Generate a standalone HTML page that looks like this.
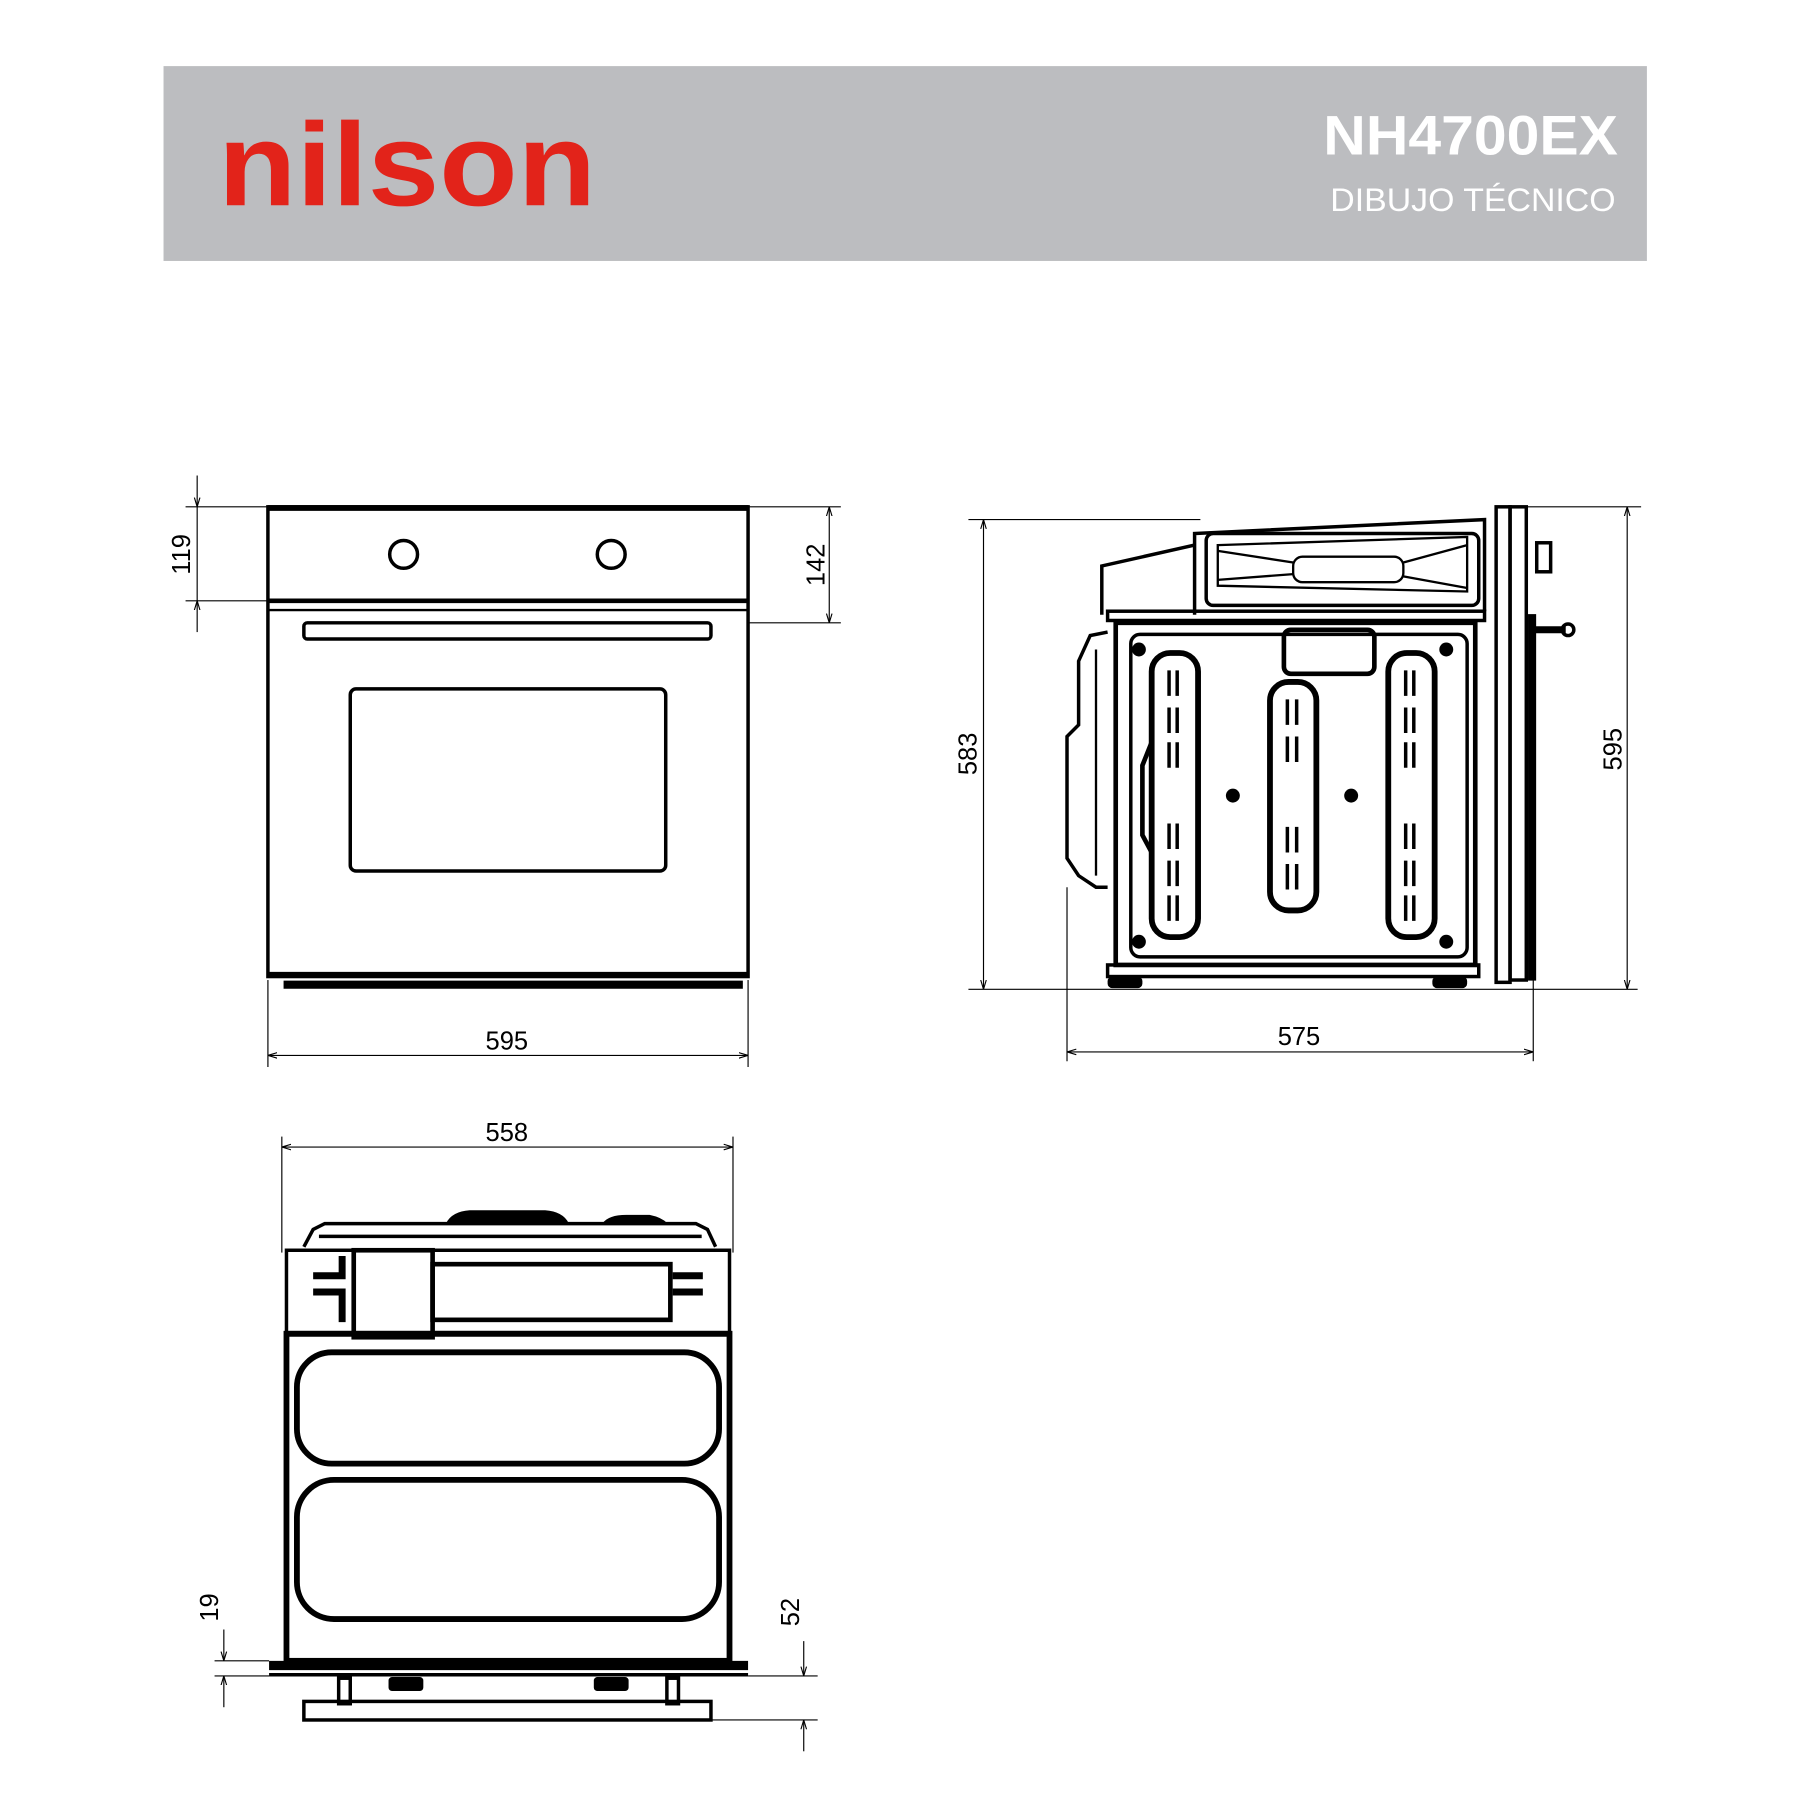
<!DOCTYPE html>
<html><head><meta charset="utf-8"><style>html,body{margin:0;padding:0;background:#fff}svg{display:block}</style></head>
<body>
<svg width="1800" height="1800" viewBox="0 0 1552 1552" xmlns="http://www.w3.org/2000/svg" font-family="Liberation Sans, sans-serif">
<defs>
<marker id="a" viewBox="0 0 10 10" refX="10" refY="5" markerWidth="8" markerHeight="8" orient="auto-start-reverse" markerUnits="userSpaceOnUse"><path d="M0,2 L10,5 L0,8" fill="none" stroke="#000" stroke-width="1.2"/></marker>
</defs>
<rect width="1552" height="1552" fill="#fff"/>
<!-- header -->
<rect x="141" y="57" width="1279" height="168" fill="#bcbdc0"/>
<text x="188" y="177" font-size="102" font-weight="bold" fill="#e2231a" textLength="326" lengthAdjust="spacingAndGlyphs">nilson</text>
<text x="1395" y="133" font-size="48" font-weight="bold" fill="#fff" text-anchor="end" textLength="254" lengthAdjust="spacingAndGlyphs">NH4700EX</text>
<text x="1393" y="182" font-size="28" fill="#fff" text-anchor="end" textLength="246" lengthAdjust="spacingAndGlyphs">DIBUJO TÉCNICO</text>

<g stroke="#000" fill="none">
<!-- FRONT VIEW -->
<rect x="231" y="437" width="414" height="405" stroke-width="3"/>
<line x1="231" y1="438" x2="645" y2="438" stroke-width="5"/>
<line x1="231" y1="518" x2="645" y2="518" stroke-width="4"/>
<line x1="231" y1="526" x2="645" y2="526" stroke-width="2"/>
<circle cx="348" cy="478" r="12" stroke-width="3"/>
<circle cx="527" cy="478" r="12" stroke-width="3"/>
<rect x="262" y="537" width="351" height="14" rx="3" stroke-width="3"/>
<rect x="302" y="594" width="272" height="157" rx="5" stroke-width="3"/>
<line x1="231" y1="840" x2="645" y2="840" stroke-width="4"/>
<path d="M245,846 H640 V852 H245 Z" fill="#000" stroke-width="1"/>
<!-- front dims -->
<g stroke-width="1">
<line x1="160" y1="437" x2="231" y2="437"/><line x1="160" y1="518" x2="231" y2="518"/>
<line x1="170" y1="410" x2="170" y2="437" marker-end="url(#a)"/>
<line x1="170" y1="437" x2="170" y2="518"/>
<line x1="170" y1="545" x2="170" y2="518" marker-end="url(#a)"/>
<line x1="645" y1="437" x2="725" y2="437"/><line x1="645" y1="537" x2="725" y2="537"/>
<line x1="715" y1="437" x2="715" y2="537" marker-start="url(#a)" marker-end="url(#a)"/>
<line x1="231" y1="845" x2="231" y2="920"/><line x1="645" y1="845" x2="645" y2="920"/>
<line x1="231" y1="910" x2="645" y2="910" marker-start="url(#a)" marker-end="url(#a)"/>
</g>

<!-- SIDE VIEW -->
<g stroke-width="1">
<line x1="835" y1="448" x2="1035" y2="448"/>
<line x1="835" y1="853" x2="1412" y2="853"/>
<line x1="848" y1="448" x2="848" y2="853" marker-start="url(#a)" marker-end="url(#a)"/>
<line x1="1310" y1="437" x2="1415" y2="437"/>
<line x1="1403" y1="437" x2="1403" y2="853" marker-start="url(#a)" marker-end="url(#a)"/>
<line x1="920" y1="765" x2="920" y2="915"/><line x1="1322" y1="845" x2="1322" y2="915"/>
<line x1="920" y1="907" x2="1322" y2="907" marker-start="url(#a)" marker-end="url(#a)"/>
</g>
<rect x="962" y="537" width="310" height="295" stroke-width="4"/>
<rect x="975" y="547" width="290" height="278" rx="8" stroke-width="3"/>
<rect x="955" y="527" width="325" height="8" stroke-width="3"/>
<rect x="955" y="832" width="320" height="10" stroke-width="3"/>
<path d="M950,530 V488 L1030,470" stroke-width="3"/>
<path d="M1030,530 V460 L1280,448 V527" stroke-width="3"/>
<rect x="1040" y="460" width="235" height="62" rx="6" stroke-width="3"/>
<path d="M1050,470 L1265,463 V510 L1050,505 Z" stroke-width="2"/>
<rect x="1115" y="480" width="95" height="22" rx="8" stroke-width="2"/>
<path d="M1050,475 L1115,485 M1050,500 L1115,495 M1210,485 L1265,470 M1210,497 L1265,507" stroke-width="2"/>
<rect x="1290" y="437" width="12" height="410" stroke-width="3"/>
<rect x="1302" y="437" width="14" height="408" stroke-width="3"/>
<rect x="1318" y="530" width="6" height="315" fill="#000"/>
<rect x="1325" y="468" width="12" height="25" stroke-width="3"/>
<path d="M1322,543 H1350" stroke-width="6"/><circle cx="1352" cy="543" r="5" stroke-width="3"/>
<path d="M955,545 L940,548 L930,570 V625 L920,635 V740 L930,755 L945,765 L955,765" stroke-width="3"/>
<path d="M945,560 V755" stroke-width="2"/>
<rect x="1107" y="543" width="78" height="38" rx="6" stroke-width="4"/>
<rect x="993" y="563" width="40" height="245" rx="16" stroke-width="5"/>
<rect x="1095" y="588" width="40" height="197" rx="16" stroke-width="5"/>
<rect x="1197" y="563" width="40" height="245" rx="16" stroke-width="5"/>
<path d="M993,640 L985,660 V720 L993,735" stroke-width="4"/>
<g stroke-width="3">
<path d="M1008,578 v22 M1015,578 v22 M1008,610 v22 M1015,610 v22 M1008,640 v22 M1015,640 v22 M1008,710 v22 M1015,710 v22 M1008,742 v22 M1015,742 v22 M1008,772 v22 M1015,772 v22"/>
<path d="M1110,603 v22 M1118,603 v22 M1110,635 v22 M1118,635 v22 M1110,713 v22 M1118,713 v22 M1110,745 v22 M1118,745 v22"/>
<path d="M1212,578 v22 M1219,578 v22 M1212,610 v22 M1219,610 v22 M1212,640 v22 M1219,640 v22 M1212,710 v22 M1219,710 v22 M1212,742 v22 M1219,742 v22 M1212,772 v22 M1219,772 v22"/>
</g>
</g>
<g fill="#000">
<circle cx="1063" cy="686" r="6"/><circle cx="1165" cy="686" r="6"/>
<circle cx="982" cy="560" r="6"/><circle cx="1247" cy="560" r="6"/>
<circle cx="982" cy="812" r="6"/><circle cx="1247" cy="812" r="6"/>
<rect x="955" y="842" width="30" height="10" rx="4"/><rect x="1235" y="842" width="30" height="10" rx="4"/>
</g>

<!-- BOTTOM VIEW -->
<g stroke="#000" fill="none">
<g stroke-width="1">
<line x1="243" y1="980" x2="243" y2="1080"/><line x1="632" y1="980" x2="632" y2="1080"/>
<line x1="243" y1="989" x2="632" y2="989" marker-start="url(#a)" marker-end="url(#a)"/>
<line x1="185" y1="1432" x2="232" y2="1432"/><line x1="185" y1="1445" x2="232" y2="1445"/>
<line x1="193" y1="1405" x2="193" y2="1432" marker-end="url(#a)"/>
<line x1="193" y1="1472" x2="193" y2="1445" marker-end="url(#a)"/>
<line x1="645" y1="1445" x2="705" y2="1445"/><line x1="613" y1="1483" x2="705" y2="1483"/>
<line x1="693" y1="1415" x2="693" y2="1445" marker-end="url(#a)"/>
<line x1="693" y1="1510" x2="693" y2="1483" marker-end="url(#a)"/>
</g>
<path d="M262,1075 L270,1060 L280,1055 H600 L610,1060 L617,1075" stroke-width="3"/>
<line x1="275" y1="1066" x2="605" y2="1066" stroke-width="3"/>
<path d="M385,1055 Q390,1045 405,1044 H470 Q485,1045 490,1055 Z M520,1055 Q525,1048 540,1048 H560 Q570,1050 575,1055 Z" fill="#000" stroke-width="1"/>
<rect x="247" y="1078" width="382" height="72" stroke-width="3"/>
<line x1="247" y1="1150" x2="629" y2="1150" stroke-width="5"/>
<rect x="305" y="1078" width="68" height="75" stroke-width="4"/>
<rect x="373" y="1090" width="205" height="48" stroke-width="4"/>
<path d="M270,1100 H295 V1083 M270,1114 H295 V1140" stroke-width="6"/>
<path d="M580,1100 H606 M580,1114 H606" stroke-width="6"/>
<rect x="247" y="1150" width="382" height="282" stroke-width="5"/>
<rect x="256" y="1166" width="364" height="96" rx="30" stroke-width="5"/>
<rect x="256" y="1276" width="364" height="120" rx="32" stroke-width="5"/>
<line x1="232" y1="1436" x2="645" y2="1436" stroke-width="8"/>
<line x1="232" y1="1444" x2="645" y2="1444" stroke-width="3"/>
<rect x="292" y="1447" width="10" height="22" stroke-width="3"/>
<rect x="575" y="1447" width="10" height="22" stroke-width="3"/>
<rect x="262" y="1467" width="351" height="16" stroke-width="3"/>
</g>
<rect x="335" y="1446" width="30" height="12" rx="3" fill="#000"/>
<rect x="512" y="1446" width="30" height="12" rx="3" fill="#000"/>

<!-- dimension labels -->
<g font-size="22" fill="#000" text-anchor="middle">
<text transform="translate(164,478) rotate(-90)">119</text>
<text transform="translate(711,487) rotate(-90)">142</text>
<text x="437" y="905">595</text>
<text transform="translate(842,650) rotate(-90)">583</text>
<text transform="translate(1398,646) rotate(-90)">595</text>
<text x="1120" y="901">575</text>
<text x="437" y="984">558</text>
<text transform="translate(188,1386) rotate(-90)">19</text>
<text transform="translate(689,1390) rotate(-90)">52</text>
</g>
</svg>
</body></html>
